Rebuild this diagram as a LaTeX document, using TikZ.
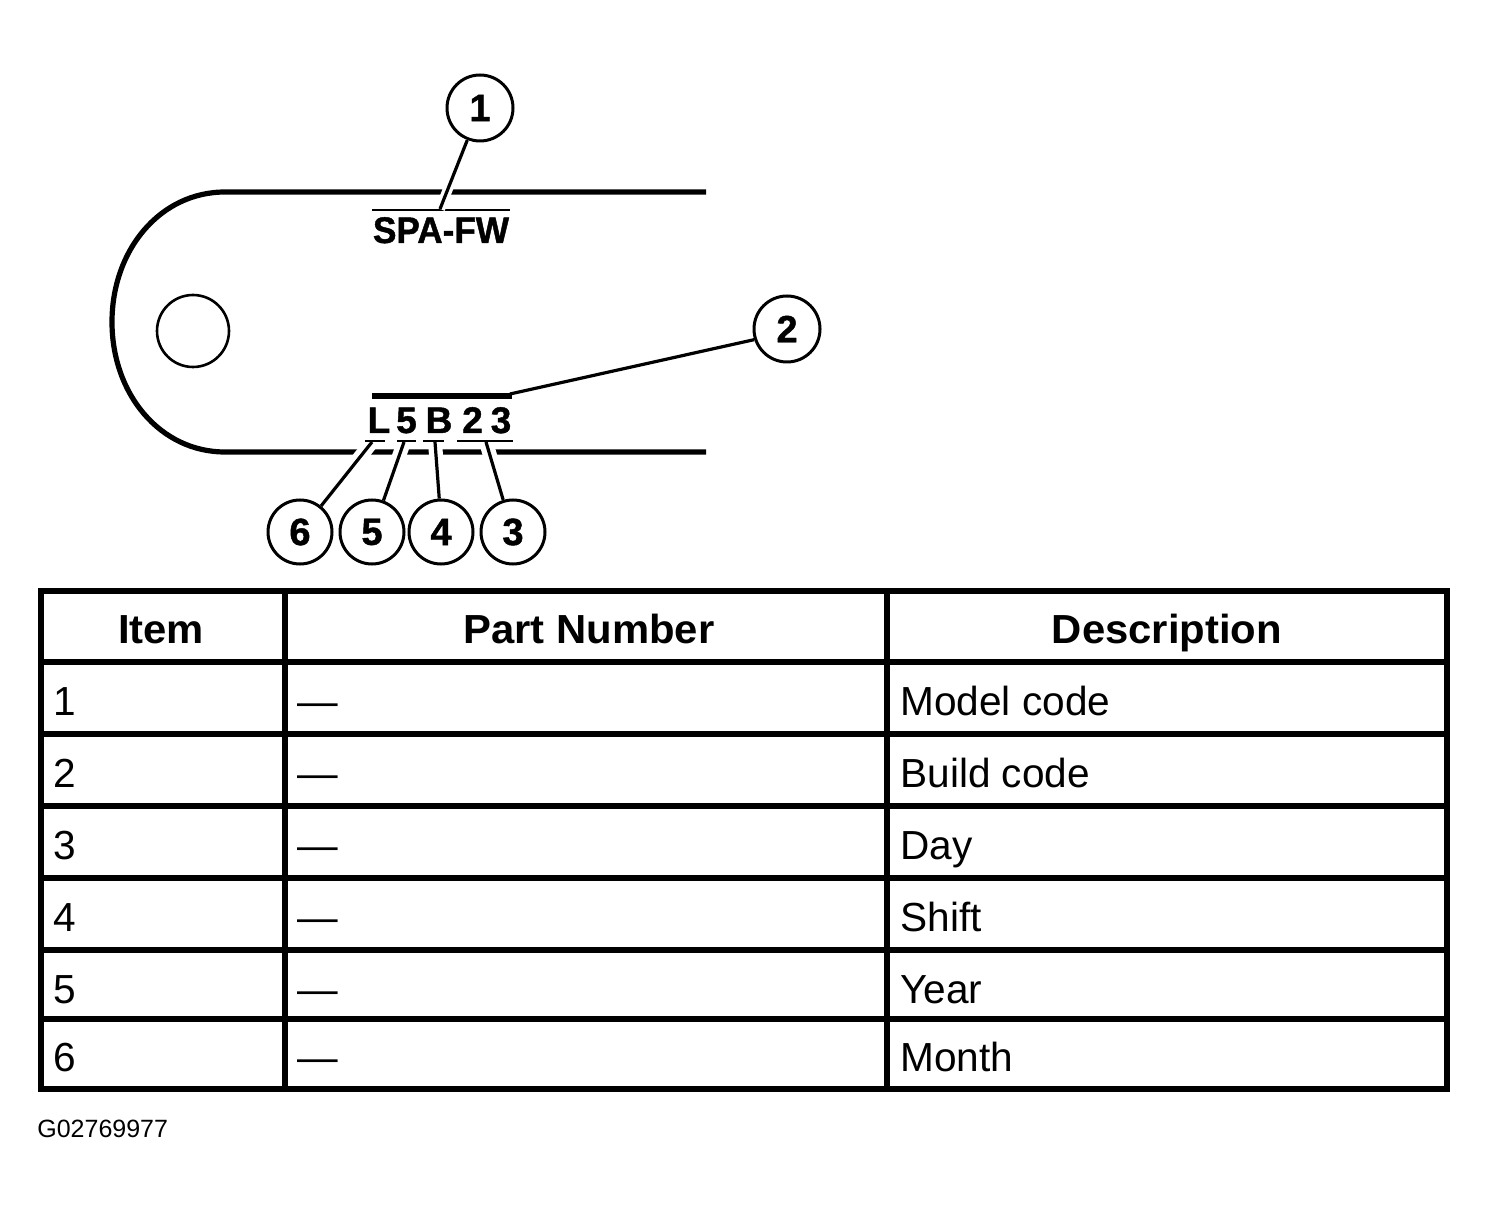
\documentclass[tikz,border=0pt]{standalone}
\usepackage{fontspec}
\setmainfont{Liberation Sans}
\newfontfamily\heavy[BoldFeatures={FakeBold=1.2}]{Liberation Sans}
\begin{document}
\begin{tikzpicture}[x=0.5pt,y=-0.5pt,
  bubble/.style={circle,draw=black,line width=1.5pt,minimum size=33pt,inner sep=0pt,font=\fontsize{19}{20}\heavy\bfseries},
  bubblesm/.style={bubble,minimum size=32pt},
  leader/.style={line width=1.6pt,black},
  halo/.style={line width=5pt,white},
  outline/.style={line width=2.6pt,black,line cap=butt},
  rulethin/.style={line width=1.4pt,black},
  gridline/.style={line width=2.8pt,black},
  gridouter/.style={line width=3pt,black,line join=miter},
  chipch/.style={inner sep=0pt,anchor=base,font=\fontsize{18.5}{20}\heavy\bfseries},
  hd/.style={inner sep=0pt,anchor=base,xscale=1.03,font=\fontsize{20.3}{24}\selectfont\bfseries},
  cell/.style={inner sep=0pt,anchor=base west,font=\fontsize{20.3}{24}\selectfont}]
\useasboundingbox (0,0) rectangle (1488,1213);
% part outline
\draw[outline] (706,192) -- (225,192) .. controls (160,192) and (112,250) .. (112,322)
   .. controls (112,394) and (160,452) .. (225,452) -- (706,452);
\node[circle,draw=black,line width=1.3pt,minimum size=36pt,inner sep=0pt] (hole) at (193,331) {};
% model code
\draw[rulethin] (372,210) -- (510,210);
\coordinate (a1) at (440,209);
\node[inner sep=0pt,anchor=base,xscale=0.95,font=\fontsize{18.5}{20}\heavy\bfseries] (spa) at (441,243) {SPA-FW};
\node[bubble] (c1) at (480,108) {1};
\draw[halo] (c1) -- (a1);
\draw[leader] (c1) -- (a1);
% build code
\draw[line width=3pt,black] (372,396) -- (512,396);
\coordinate (a2) at (510,394);
\node[bubble] (c2) at (787,329) {2};
\draw[leader] (c2.198) -- (a2);
% chars
\node[chipch] (l1) at (379,433) {L};
\node[chipch] (l2) at (406.5,433) {5};
\node[chipch] (l3) at (439,433) {B};
\node[chipch] (l4) at (472.5,433) {2};
\node[chipch] (l5) at (501,433) {3};
% underlines
\draw[rulethin] (365,441) -- (385,441);
\draw[rulethin] (397,441) -- (416,441);
\draw[rulethin] (423,441) -- (444,441);
\draw[rulethin] (457,441) -- (513,441);
\coordinate (a6) at (372,442);
\coordinate (a5) at (404,442);
\coordinate (a4) at (435,442);
\coordinate (a3) at (486,442);
\node[bubblesm] (c6) at (300,532) {6};
\node[bubblesm] (c5) at (372,532) {5};
\node[bubblesm] (c4) at (441,532) {4};
\node[bubblesm] (c3) at (513,532) {3};
\foreach \c/\ang/\a in {c6/51/a6,c5/70/a5,c4/93/a4,c3/107/a3}{
  \begin{scope}
    \clip (300,446) rectangle (560,458);
    \draw[halo,line width=7pt] (\c.\ang) -- (\a);
  \end{scope}
  \draw[leader] (\c.\ang) -- (\a);
}
% table
\draw[gridouter] (41,591) rectangle (1447,1089);
\foreach \yy in {662,734,806,878,950,1019}{\draw[gridline] (41,\yy) -- (1447,\yy);}
\draw[gridline] (285,591) -- (285,1089);
\draw[gridline] (887,591) -- (887,1089);
% header
\node[hd] (h1) at (161,643) {Item};
\node[hd] (h2) at (589,643) {Part Number};
\node[hd] (h3) at (1167,643) {Description};
% rows
\foreach \n/\b/\d in {1/715/Model code,2/787/Build code,3/859/Day,4/931/Shift,5/1003/Year,6/1071/Month}{
  \node[cell] (item\n) at (53,\b) {\n};
  \node[cell] (part\n) at (297.5,\b) {—};
  \node[cell] (desc\n) at (900,\b) {\d};
}
\node[inner sep=0pt,anchor=base west,font=\fontsize{12.5}{14}\selectfont] (gcode) at (37,1137) {G02769977};
\end{tikzpicture}
\end{document}
